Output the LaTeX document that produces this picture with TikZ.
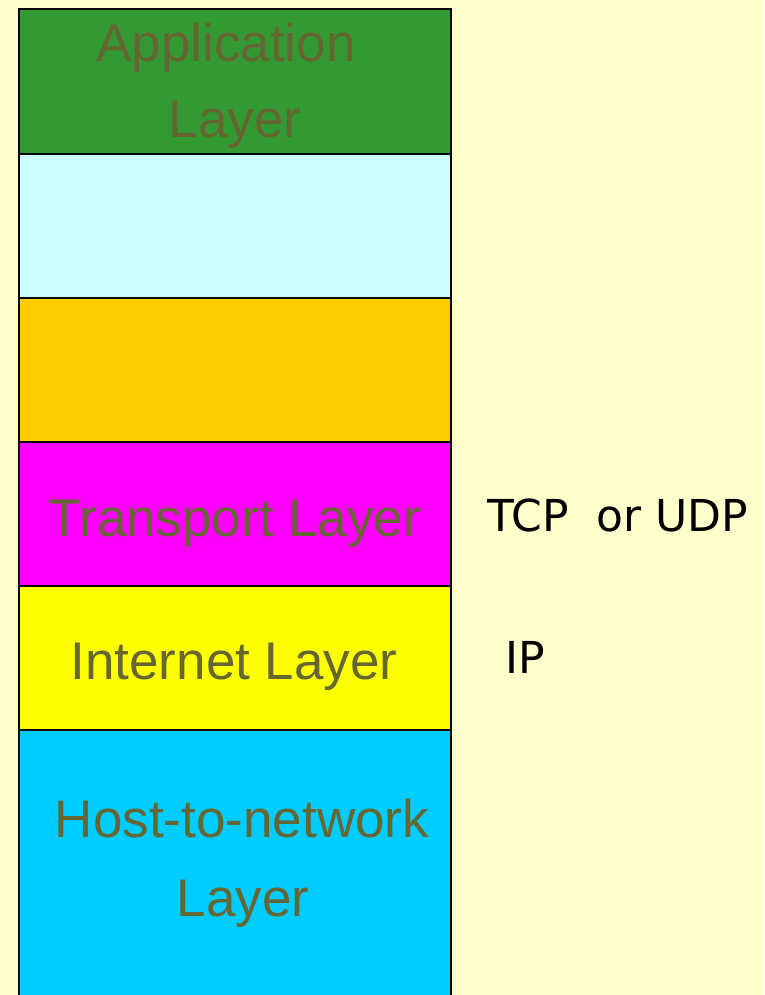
\documentclass[tikz,border=0pt]{standalone}
\usepackage{fontspec}
\setmainfont{Liberation Sans}
\newfontfamily\protofont{DejaVu Sans}
\definecolor{pagebg}{HTML}{FFFFCC}
\definecolor{appgreen}{HTML}{339933}
\definecolor{palecyan}{HTML}{CCFFFF}
\definecolor{amber}{HTML}{FFCC00}
\definecolor{magentabox}{HTML}{FF00FF}
\definecolor{yellowbox}{HTML}{FFFF00}
\definecolor{skyblue}{HTML}{00CCFF}
\definecolor{olivetext}{HTML}{666633}
\tikzset{
  layerbox/.style={draw=black, line width=2pt, rectangle, inner sep=0pt,
    minimum width=432pt, anchor=north west},
  layertext/.style={anchor=base, inner sep=0pt, text=olivetext,
    font=\fontsize{53}{60}\selectfont},
  prototext/.style={anchor=base west, inner sep=0pt, text=black,
    font=\protofont\fontsize{44}{50}\selectfont},
}
\begin{document}
\begin{tikzpicture}[x=1pt, y=-1pt]
  \useasboundingbox (0,0) rectangle (764,995);
  \fill[pagebg] (0,0) rectangle (764,995);
  \clip (0,0) rectangle (764,995);
  % stack of layers, top to bottom
  \node[layerbox, fill=appgreen,   minimum height=145pt] (app)  at (18,8)   {};
  \node[layerbox, fill=palecyan,   minimum height=144pt] (pres) at (18,153) {};
  \node[layerbox, fill=amber,      minimum height=144pt] (sess) at (18,297) {};
  \node[layerbox, fill=magentabox, minimum height=144pt] (trans) at (18,441) {};
  \node[layerbox, fill=yellowbox,  minimum height=144pt] (inet) at (18,585) {};
  \node[layerbox, fill=skyblue,    minimum height=300pt] (host) at (18,729) {};
  % layer names
  \node[layertext] (appA) at (226,62)  {Application};
  \node[layertext] (appB) at (235,138) {Layer};
  \node[layertext] (transT) at (235,536) {Transport Layer};
  \node[layertext] (inetT)  at (234,679) {Internet Layer};
  \node[layertext] (hostA)  at (242,837) {Host-to-network};
  \node[layertext] (hostB)  at (243,916) {Layer};
  % protocols beside the stack
  \node[prototext] (tcp) at (487,531) {TCP\ \ or UDP};
  \node[prototext] (ip)  at (505,673) {IP};
\end{tikzpicture}
\end{document}
